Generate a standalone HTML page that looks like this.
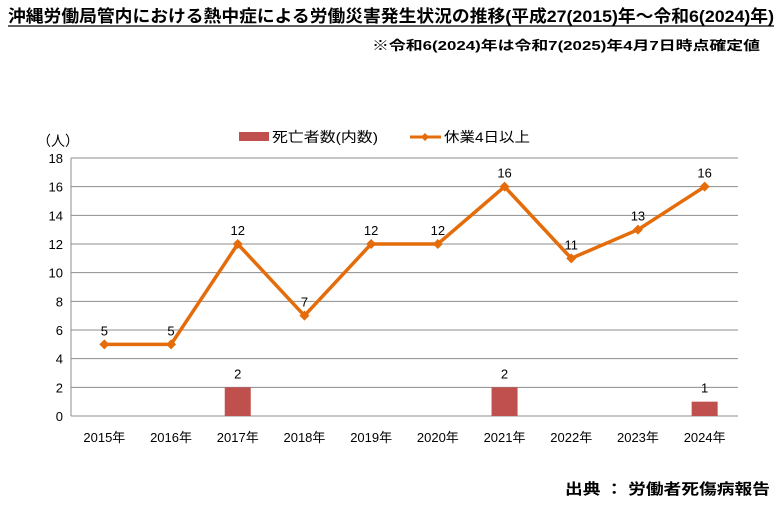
<!DOCTYPE html>
<html><head><meta charset="utf-8"><style>
body{margin:0;background:#fff;width:784px;height:508px;overflow:hidden;font-family:"Liberation Sans","Noto Sans CJK JP",sans-serif}
svg text{font-family:"Liberation Sans","Noto Sans CJK JP",sans-serif}
</style></head><body>
<svg width="784" height="508">
<text x="8" y="22" font-size="17" font-weight="bold" textLength="766" lengthAdjust="spacingAndGlyphs">沖縄労働局管内における熱中症による労働災害発生状況の推移(平成27(2015)年～令和6(2024)年)</text>
<line x1="8" y1="26" x2="774" y2="26" stroke="#000" stroke-width="1.2"/>
<text x="760" y="50" font-size="13" font-weight="bold" text-anchor="end" textLength="388" lengthAdjust="spacingAndGlyphs">※令和6(2024)年は令和7(2025)年4月7日時点確定値</text>
<text x="37" y="146" font-size="14">（人）</text>
<g>
<rect x="239" y="132" width="30" height="9" fill="#c0504d"/>
<text x="272" y="142" font-size="14" textLength="106" lengthAdjust="spacingAndGlyphs">死亡者数(内数)</text>
<line x1="410" y1="137" x2="441" y2="137" stroke="#e46c0a" stroke-width="3"/>
<path d="M425 133 L429 137 L425 141 L421 137Z" fill="#e46c0a"/>
<text x="444" y="142" font-size="14" textLength="86" lengthAdjust="spacingAndGlyphs">休業4日以上</text>
</g>
<g id="grid"></g><g id="bars"></g><g id="line"></g>
<text x="565" y="494" font-size="15" font-weight="bold" textLength="205" lengthAdjust="spacingAndGlyphs">出典 ： 労働者死傷病報告</text>
</svg>
<script>
const categories=["2015年","2016年","2017年","2018年","2019年","2020年","2021年","2022年","2023年","2024年"];
const deaths=[0,0,2,0,0,0,2,0,0,1];
const lost4=[5,5,12,7,12,12,16,11,13,16];
const yTicks=[0,2,4,6,8,10,12,14,16,18];
const NS="http://www.w3.org/2000/svg";
const L=71,R=738,T=158,B=416,ymax=18;
const bw=(R-L)/categories.length;
const x=i=>L+bw*(i+0.5);
const y=v=>B-(B-T)*v/ymax;
function mk(p,tag,a){const e=document.createElementNS(NS,tag);for(const k in a)e.setAttribute(k,a[k]);p.appendChild(e);return e;}
const g=document.getElementById('grid'),bg=document.getElementById('bars'),lg=document.getElementById('line');
yTicks.forEach(t=>{
 const l=mk(g,'line',{x1:L,x2:R,y1:y(t),y2:y(t),stroke:'#8c8c8c','stroke-width':1});
 
 
 const tx=mk(g,'text',{x:L-8,y:y(t)+5,'font-size':13,'text-anchor':'end'});tx.textContent=t;
 
 
});
const ax=mk(g,'line',{x1:L,x2:L,y1:T,y2:B,stroke:'#8c8c8c'});


categories.forEach((c,i)=>{
 const tx=mk(g,'text',{x:x(i),y:B+26,'font-size':13,'text-anchor':'middle'});tx.textContent=c;
 
 
 if(deaths[i]>0){
  const r=mk(bg,'rect',{x:x(i)-13,y:y(deaths[i]),width:26,height:B-y(deaths[i]),fill:'#c0504d'});
  
  
  const lb=mk(bg,'text',{x:x(i),y:y(deaths[i])-9,'font-size':13,'text-anchor':'middle'});lb.textContent=deaths[i];
  
  
 }
});
const pl=mk(lg,'polyline',{points:lost4.map((v,i)=>x(i)+','+y(v)).join(' '),fill:'none',stroke:'#e46c0a','stroke-width':3.5});


lost4.forEach((v,i)=>{
 const px=x(i),py=y(v);
 const m=mk(lg,'path',{d:`M${px} ${py-5}L${px+5} ${py}L${px} ${py+5}L${px-5} ${py}Z`,fill:'#e46c0a'});
 
 
 const lb=mk(lg,'text',{x:px,y:py-9,'font-size':13,'text-anchor':'middle'});lb.textContent=v;
 
 
});
</script>
</body></html>
